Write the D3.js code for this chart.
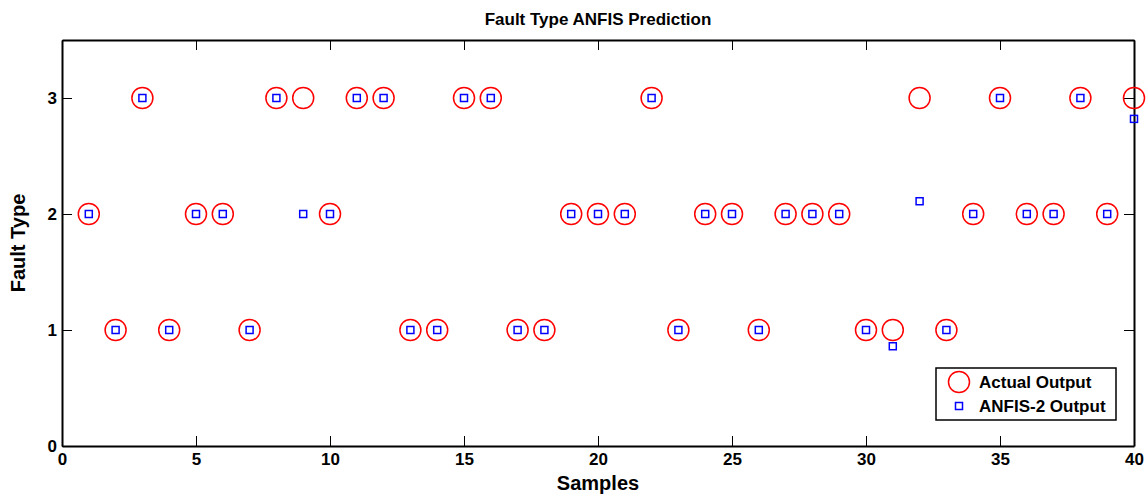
<!DOCTYPE html>
<html>
<head>
<meta charset="utf-8">
<script src="https://cdn.jsdelivr.net/npm/d3@7"></script>
<style>
  body { margin: 0; background: #fff; }
  text { font-family: "Liberation Sans", Arial, sans-serif; font-weight: bold; }
</style>
</head>
<body>
<script>
// sample numbers 1..40
var samples = [1,2,3,4,5,6,7,8,9,10,11,12,13,14,15,16,17,18,19,20,
               21,22,23,24,25,26,27,28,29,30,31,32,33,34,35,36,37,38,39,40];
var actual = [2,1,3,1,2,2,1,3,3,2,3,3,1,1,3,3,1,1,2,2,
              2,3,1,2,2,1,2,2,2,1,1,3,1,2,3,2,2,3,2,3];
var anfis  = [2,1,3,1,2,2,1,3,2,2,3,3,1,1,3,3,1,1,2,2,
              2,3,1,2,2,1,2,2,2,1,0.86,2.11,1,2,3,2,2,3,2,2.82];
var xTicks = [0,5,10,15,20,25,30,35,40];
var yTicks = [0,1,2,3];

var width = 1148, height = 496;
var m = {left: 62, right: 14, top: 40, bottom: 50};

var svg = d3.select("body").append("svg")
    .attr("width", width)
    .attr("height", height);

var x = d3.scaleLinear().domain([0, 40]).range([m.left, width - m.right]);
var y = d3.scaleLinear().domain([0, 3.5]).range([height - m.bottom, m.top]);

// axes, ticks pointing inward like matlab
var axStyle = function(g){
  g.select(".domain").attr("stroke", "#000").attr("stroke-width", 2);
  g.selectAll(".tick line").attr("stroke", "#000").attr("stroke-width", 1);
  g.selectAll(".tick text").attr("fill", "#000").style("font-size", "17px");
};

svg.append("g")
  .attr("transform", "translate(0," + y(0) + ")")
  .call(d3.axisBottom(x).tickValues(xTicks).tickSizeInner(-10).tickSizeOuter(0).tickPadding(7))
  .call(axStyle);
svg.append("g")
  .attr("transform", "translate(0," + y(3.5) + ")")
  .call(d3.axisTop(x).tickValues(xTicks).tickSizeInner(-10).tickSizeOuter(0).tickFormat(""))
  .call(axStyle);
svg.append("g")
  .attr("transform", "translate(" + x(0) + ",0)")
  .call(d3.axisLeft(y).tickValues(yTicks).tickFormat(d3.format("d")).tickSizeInner(-10).tickSizeOuter(0).tickPadding(5))
  .call(axStyle);
svg.append("g")
  .attr("transform", "translate(" + x(40) + ",0)")
  .call(d3.axisRight(y).tickValues(yTicks).tickSizeInner(-10).tickSizeOuter(0).tickFormat(""))
  .call(axStyle);

// actual output circles
svg.append("g").selectAll("circle")
  .data(samples)
  .enter().append("circle")
  .attr("cx", function(d){ return x(d); })
  .attr("cy", function(d, i){ return y(actual[i]); })
  .attr("r", 10.5)
  .attr("fill", "none")
  .attr("stroke", "#ff0000")
  .attr("stroke-width", 1.5);

// anfis squares
var sq = 7;
svg.append("g").selectAll("rect")
  .data(samples)
  .enter().append("rect")
  .attr("x", function(d){ return x(d) - sq/2; })
  .attr("y", function(d, i){ return y(anfis[i]) - sq/2; })
  .attr("width", sq)
  .attr("height", sq)
  .attr("fill", "none")
  .attr("stroke", "#0000ff")
  .attr("stroke-width", 1.5);

// titles
svg.append("text")
  .attr("x", (x(0) + x(40)) / 2).attr("y", 25)
  .attr("text-anchor", "middle")
  .style("font-size", "17px")
  .text("Fault Type ANFIS Prediction");
svg.append("text")
  .attr("x", (x(0) + x(40)) / 2).attr("y", 490)
  .attr("text-anchor", "middle")
  .style("font-size", "20px")
  .text("Samples");
svg.append("text")
  .attr("transform", "translate(25," + y(1.75) + ") rotate(-90)")
  .attr("text-anchor", "middle")
  .style("font-size", "20px")
  .text("Fault Type");

// legend
var lg = svg.append("g").attr("transform", "translate(936,368)");
lg.append("rect")
  .attr("width", 180).attr("height", 52)
  .attr("fill", "#fff").attr("stroke", "#000").attr("stroke-width", 1.5);
lg.append("circle")
  .attr("cx", 23).attr("cy", 14).attr("r", 10.5)
  .attr("fill", "none").attr("stroke", "#ff0000").attr("stroke-width", 1.5);
lg.append("rect")
  .attr("x", 23 - 3.5).attr("y", 38 - 3.5).attr("width", 7).attr("height", 7)
  .attr("fill", "none").attr("stroke", "#0000ff").attr("stroke-width", 1.5);
lg.append("text").attr("x", 43).attr("y", 20).style("font-size", "17px").text("Actual Output");
lg.append("text").attr("x", 43).attr("y", 44).style("font-size", "17px").text("ANFIS-2 Output");
</script>
</body>
</html>
